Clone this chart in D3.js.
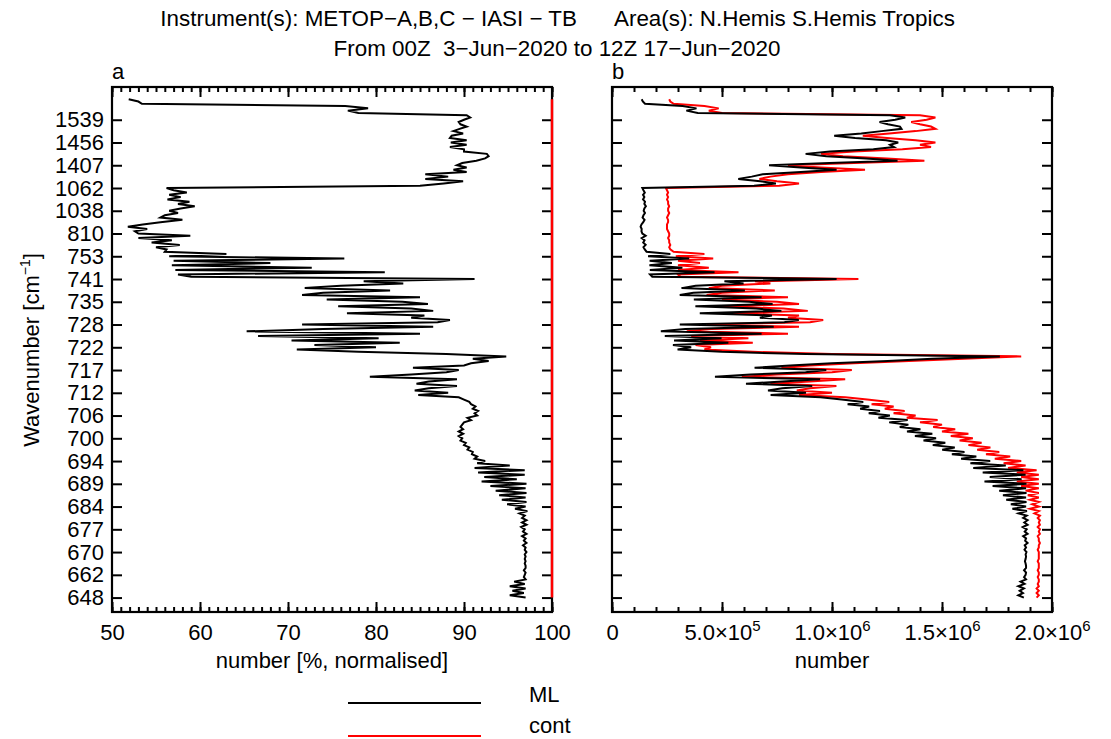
<!DOCTYPE html>
<html>
<head>
<meta charset="utf-8">
<script src="https://cdn.jsdelivr.net/npm/d3@7"></script>
<style>
  body { margin: 0; background: #fff; }
  svg { font-family: "Liberation Sans", Arial, Helvetica, sans-serif; }
  text { fill: #000; }
</style>
</head>
<body>
<svg id="chart" width="1111" height="739"></svg>
<script>
// ---------- data: one value per channel, from 648 cm-1 (bottom) upward ----------
const tickChannel = [0, 10, 20, 30, 40, 50, 60, 70, 80, 90, 100, 110, 120, 130, 140, 150, 160, 170, 180, 190, 200, 210];
const tickLabel = ['648', '662', '670', '677', '684', '689', '694', '700', '706', '712', '717',
                   '722', '728', '735', '741', '753', '810', '1038', '1062', '1407', '1456', '1539'];

// panel a: ML number as % of cont (normalised)
const mlPercent = [
  97.0, 95.2, 96.8, 95.5, 97.0, 95.2, 96.9, 95.7, 97.0, 96.8,
  96.9, 97.0, 96.8, 97.0, 97.0, 96.9, 97.0, 96.9, 97.0, 96.9,
  97.1, 96.9, 97.0, 96.7, 97.1, 96.8, 97.0, 96.6, 97.1, 96.7,
  96.9, 96.5, 97.1, 96.6, 97.1, 96.6, 96.9, 96.3, 97.2, 95.8,
  97.0, 94.9, 97.1, 94.3, 97.0, 94.0, 97.1, 93.6, 97.0, 93.0,
  97.1, 92.0, 96.0, 92.3, 96.9, 91.6, 96.9, 91.2, 95.2, 91.5,
  92.4, 91.2, 91.5, 90.9, 91.0, 90.4, 90.6, 90.0, 90.2, 89.6,
  89.8, 89.4, 89.9, 89.4, 89.9, 89.6, 89.8, 90.0, 90.8, 90.4,
  91.5, 91.2, 91.6, 91.0, 91.3, 90.8, 90.6, 90.0, 89.4, 84.8,
  88.2, 84.4, 86.0, 89.2, 84.6, 86.0, 89.2, 79.3, 84.0, 88.0,
  89.4, 84.2, 90.0, 90.8, 92.8, 91.0, 94.8, 88.0, 78.0, 71.0,
  80.0, 73.0, 82.7, 70.4, 80.3, 66.6, 85.0, 65.3, 74.0, 86.5,
  71.6, 87.0, 88.4, 84.0, 85.5, 76.7, 86.5, 84.0, 75.7, 85.9,
  83.0, 74.4, 85.0, 71.6, 74.0, 81.6, 71.9, 76.0, 83.1, 78.6,
  91.2, 59.0, 57.5, 81.0, 57.2, 72.7, 56.8, 68.0, 57.0, 76.4,
  56.5, 63.0, 56.0, 56.2, 55.0, 57.7, 54.5, 56.8, 53.0, 58.9,
  53.0, 52.6, 54.0, 51.8, 53.5, 55.5, 58.0, 55.5, 56.0, 57.5,
  56.5, 57.8, 59.4, 57.5, 58.8, 56.3, 57.8, 56.5, 58.5, 57.0,
  56.2, 85.0, 87.7, 89.9, 85.6, 88.2, 85.6, 90.3, 88.8, 90.3,
  89.2, 89.8, 91.4, 92.4, 92.8, 92.6, 90.0, 90.0, 88.4, 90.3,
  88.5, 90.3, 88.4, 88.6, 89.9, 88.8, 89.5, 90.3, 89.6, 89.4,
  90.0, 90.7, 90.3, 78.0, 76.8, 79.1, 76.5, 53.4, 53.0, 51.9
];

// panel b: numbers used, in units of 1e5
const contCount = [
  19.3, 19.4, 19.3, 19.4, 19.3, 19.4, 19.35, 19.4, 19.4, 19.35,
  19.4, 19.4, 19.35, 19.4, 19.4, 19.4, 19.35, 19.4, 19.4, 19.4,
  19.4, 19.35, 19.4, 19.4, 19.45, 19.4, 19.4, 19.35, 19.45, 19.4,
  19.45, 19.35, 19.45, 19.4, 19.45, 19.35, 19.45, 19.2, 19.4, 19.0,
  19.4, 19.1, 19.4, 19.0, 19.4, 18.9, 19.4, 18.8, 19.4, 18.6,
  19.4, 18.4, 19.4, 18.6, 19.4, 18.4, 19.3, 18.0, 18.8, 17.8,
  18.6, 17.4, 18.1, 17.0, 17.6, 16.6, 17.2, 16.2, 16.8, 15.8,
  16.4, 15.4, 16.2, 15.0, 15.6, 14.6, 15.0, 14.0, 14.8, 13.4,
  13.8, 12.8, 13.3, 12.4, 12.8, 11.8, 12.6, 11.6, 10.6, 8.5,
  10.0, 8.4, 9.0, 10.2, 7.2, 9.0, 10.6, 5.9, 7.5, 10.0,
  10.9, 7.7, 9.0, 11.0, 13.5, 16.0, 18.6, 10.0, 6.4, 4.2,
  4.5, 3.8, 6.4, 4.0, 6.2, 3.6, 8.0, 3.4, 4.5, 8.5,
  4.3, 9.0, 9.6, 8.0, 8.5, 5.2, 8.9, 7.8, 5.0, 8.5,
  7.5, 5.0, 8.0, 4.3, 5.0, 7.4, 4.4, 5.0, 7.2, 6.5,
  11.2, 3.1, 3.0, 5.75, 3.0, 4.4, 3.0, 4.0, 3.0, 4.6,
  2.9, 4.2, 2.8, 2.65, 2.6, 2.65, 2.6, 2.6, 2.55, 2.6,
  2.6, 2.55, 2.5, 2.5, 2.5, 2.55, 2.55, 2.5, 2.55, 2.6,
  2.55, 2.55, 2.6, 2.55, 2.55, 2.5, 2.55, 2.5, 2.55, 2.5,
  2.45, 7.6, 8.5, 7.5, 6.7, 7.2, 8.0, 9.5, 11.5, 9.5,
  8.0, 11.0, 14.2, 12.5, 10.5, 9.5, 11.0, 13.2, 14.5, 14.0,
  14.7, 13.8, 12.5, 11.4, 12.6, 13.8, 14.7, 14.5, 14.0, 13.6,
  14.3, 14.7, 14.0, 5.0, 4.4, 4.85, 4.2, 2.8, 2.65, 2.6
];

const mlCount = [
  18.72, 18.47, 18.68, 18.53, 18.72, 18.47, 18.75, 18.57, 18.82, 18.73,
  18.80, 18.82, 18.73, 18.82, 18.82, 18.80, 18.77, 18.80, 18.82, 18.80,
  18.84, 18.75, 18.82, 18.76, 18.89, 18.78, 18.82, 18.69, 18.89, 18.76,
  18.85, 18.67, 18.89, 18.74, 18.89, 18.69, 18.85, 18.49, 18.86, 18.20,
  18.82, 18.13, 18.84, 17.92, 18.82, 17.77, 18.84, 17.60, 18.82, 17.30,
  18.84, 16.93, 18.62, 17.17, 18.80, 16.85, 18.70, 16.42, 17.90, 16.29,
  17.19, 15.87, 16.56, 15.45, 16.02, 15.01, 15.58, 14.58, 15.15, 14.16,
  14.73, 13.77, 14.56, 13.41, 14.02, 13.08, 13.47, 12.60, 13.44, 12.11,
  12.63, 11.67, 12.18, 11.28, 11.69, 10.71, 11.42, 10.44, 9.48, 7.21,
  8.82, 7.09, 7.74, 9.10, 6.09, 7.74, 9.46, 4.68, 6.30, 8.80,
  9.74, 6.48, 8.10, 9.99, 12.53, 14.56, 17.63, 8.80, 4.99, 2.98,
  3.60, 2.77, 5.29, 2.82, 4.98, 2.40, 6.80, 2.22, 3.33, 7.35,
  3.08, 7.83, 8.49, 6.72, 7.27, 3.99, 7.70, 6.55, 3.79, 7.30,
  6.23, 3.72, 6.80, 3.08, 3.70, 6.04, 3.16, 3.80, 5.98, 5.11,
  10.21, 1.83, 1.73, 4.66, 1.72, 3.20, 1.70, 2.72, 1.71, 3.51,
  1.64, 2.65, 1.57, 1.49, 1.43, 1.53, 1.42, 1.48, 1.35, 1.53,
  1.38, 1.34, 1.35, 1.30, 1.34, 1.42, 1.48, 1.39, 1.43, 1.50,
  1.44, 1.47, 1.54, 1.47, 1.50, 1.41, 1.47, 1.41, 1.49, 1.43,
  1.38, 6.46, 7.45, 6.74, 5.74, 6.35, 6.85, 8.58, 10.21, 8.58,
  7.14, 9.88, 12.98, 11.55, 9.74, 8.80, 9.90, 11.88, 12.82, 12.64,
  13.01, 12.46, 11.05, 10.10, 11.33, 12.25, 13.16, 13.09, 12.54, 12.16,
  12.87, 13.33, 12.64, 3.90, 3.38, 3.84, 3.21, 1.50, 1.40, 1.35
];
const countUnit = 1e5;

const pctMajor = [50, 60, 70, 80, 90, 100];
const countMajor = [0, 5e5, 1e6, 1.5e6, 2e6];

// ---------- layout ----------
const svg = d3.select('#chart');
const plotTop = 87, plotBottom = 612;
const panelA = {left: 112, right: 552},
      panelB = {left: 612, right: 1052};
const fontSize = 22;

const y = d3.scaleLinear().domain([-6.34, 224.39]).range([plotBottom, plotTop]);
const xA = d3.scaleLinear().domain([50, 100]).range([panelA.left, panelA.right]);
const xB = d3.scaleLinear().domain([0, 2e6]).range([panelB.left, panelB.right]);

// ---------- titles ----------
svg.append('text')
    .attr('x', 577).attr('y', 26)
    .style('font-size', '22.4px')
    .attr('text-anchor', 'end')
    .text('Instrument(s): METOP\u2212A,B,C \u2212 IASI \u2212 TB');
svg.append('text')
    .attr('x', 614).attr('y', 26)
    .style('font-size', '22.4px')
    .text('Area(s): N.Hemis S.Hemis Tropics');
svg.append('text')
    .attr('x', 557).attr('y', 56)
    .style('font-size', '22.4px')
    .attr('text-anchor', 'middle')
    .style('white-space', 'pre')
    .text('From 00Z  3\u2212Jun\u22122020 to 12Z 17\u2212Jun\u22122020');

// ---------- axes helper ----------
function styleAxis(g) {
  g.select('.domain').remove();
  g.selectAll('line').attr('stroke', '#000').attr('stroke-width', 2);
  g.selectAll('text').style('font-size', fontSize + 'px').attr('fill', '#000');
}

function drawFrame(panel, x, major, minor, fmt, showYLabels) {
  const g = svg.append('g');
  // minor x ticks, bottom and top
  g.append('g').attr('transform', `translate(0,${plotBottom})`)
    .call(d3.axisBottom(x).tickValues(minor).tickSize(-5).tickFormat(''))
    .call(styleAxis);
  g.append('g').attr('transform', `translate(0,${plotTop})`)
    .call(d3.axisTop(x).tickValues(minor).tickSize(-5).tickFormat(''))
    .call(styleAxis);
  // major x ticks
  const xb = g.append('g').attr('transform', `translate(0,${plotBottom})`)
    .call(d3.axisBottom(x).tickValues(major).tickSize(-10).tickPadding(12).tickFormat(fmt))
    .call(styleAxis);
  g.append('g').attr('transform', `translate(0,${plotTop})`)
    .call(d3.axisTop(x).tickValues(major).tickSize(-10).tickFormat(''))
    .call(styleAxis);
  // y ticks both sides
  g.append('g').attr('transform', `translate(${panel.left},0)`)
    .call(d3.axisLeft(y).tickValues(tickChannel).tickSize(-10).tickPadding(8)
      .tickFormat((d, i) => showYLabels ? tickLabel[i] : ''))
    .call(styleAxis);
  g.append('g').attr('transform', `translate(${panel.right},0)`)
    .call(d3.axisRight(y).tickValues(tickChannel).tickSize(-10).tickFormat(''))
    .call(styleAxis);
  // frame
  g.append('rect')
    .attr('x', panel.left).attr('y', plotTop)
    .attr('width', panel.right - panel.left).attr('height', plotBottom - plotTop)
    .attr('fill', 'none').attr('stroke', '#000').attr('stroke-width', 2.2);
  return xb;
}

// panel a
drawFrame(panelA, xA, pctMajor, d3.range(50, 101, 1), d3.format('d'), true);

// panel b, labels like 5.0x10^5
const xbAxis = drawFrame(panelB, xB, countMajor, d3.range(0, 2e6 + 1, 1e5), d => d, false);
xbAxis.selectAll('.tick text').each(function(d) {
  const t = d3.select(this).text('');
  if (d === 0) { t.text('0'); return; }
  const e = Math.floor(Math.log10(d) + 1e-9);
  const m = d / Math.pow(10, e);
  t.append('tspan').text(m.toFixed(1) + '\u00d710');
  t.append('tspan').attr('dy', -9).style('font-size', '15px').text(e);
});

// ---------- data lines ----------
const lineA = d3.line().x(d => xA(d[1])).y(d => y(d[0]));
const lineB = d3.line().x(d => xB(d[1] * countUnit)).y(d => y(d[0]));

// cont normalised to itself = 100 %
svg.append('path')
    .datum(contCount.map((c, i) => [i, 100 * c / c]))
    .attr('d', lineA)
    .attr('fill', 'none').attr('stroke', '#ff0000').attr('stroke-width', 2.5);
svg.append('path')
    .datum(mlPercent.map((v, i) => [i, v]))
    .attr('d', lineA)
    .attr('fill', 'none').attr('stroke', '#000').attr('stroke-width', 2);

svg.append('path')
    .datum(contCount.map((v, i) => [i, v]))
    .attr('d', lineB)
    .attr('fill', 'none').attr('stroke', '#ff0000').attr('stroke-width', 2);
svg.append('path')
    .datum(mlCount.map((v, i) => [i, v]))
    .attr('d', lineB)
    .attr('fill', 'none').attr('stroke', '#000').attr('stroke-width', 2);

// ---------- labels ----------
svg.append('text').attr('x', panelA.left).attr('y', 79)
    .style('font-size', fontSize + 'px').text('a');
svg.append('text').attr('x', panelB.left).attr('y', 79)
    .style('font-size', fontSize + 'px').text('b');

svg.append('text')
    .attr('x', (panelA.left + panelA.right) / 2).attr('y', 668)
    .attr('text-anchor', 'middle').style('font-size', fontSize + 'px')
    .text('number [%, normalised]');
svg.append('text')
    .attr('x', (panelB.left + panelB.right) / 2).attr('y', 668)
    .attr('text-anchor', 'middle').style('font-size', fontSize + 'px')
    .text('number');

const yTitle = svg.append('text')
    .attr('transform', 'translate(39,350) rotate(-90)')
    .attr('text-anchor', 'middle').style('font-size', fontSize + 'px');
yTitle.append('tspan').text('Wavenumber [cm');
yTitle.append('tspan').attr('dy', -9).style('font-size', '14px').text('\u22121');
yTitle.append('tspan').attr('dy', 9).text(']');

// ---------- legend ----------
const legend = [
  {name: 'ML', color: '#000', y: 703, textY: 702},
  {name: 'cont', color: '#ff0000', y: 736, textY: 733}
];
legend.forEach(l => {
  svg.append('line')
      .attr('x1', 348).attr('x2', 481).attr('y1', l.y).attr('y2', l.y)
      .attr('stroke', l.color).attr('stroke-width', 2);
  svg.append('text')
      .attr('x', 529).attr('y', l.textY)
      .style('font-size', fontSize + 'px').text(l.name);
});
</script>
</body>
</html>
